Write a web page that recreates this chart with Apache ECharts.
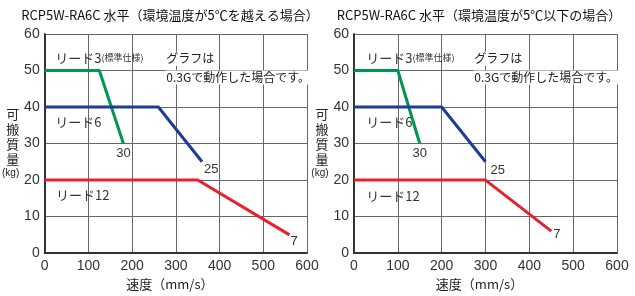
<!DOCTYPE html>
<html>
<head>
<meta charset="utf-8">
<script src="https://cdn.jsdelivr.net/npm/echarts@6/dist/echarts.min.js"></script>
<style>
  html, body { margin: 0; padding: 0; background: #fff; }
  #chart { width: 635px; height: 296px; }
</style>
</head>
<body>
<div id="chart"></div>
<script>
// titles of the two panels
const panelTitles = [
  "RCP5W-RA6C 水平（環境温度が5℃を越える場合）",
  "RCP5W-RA6C 水平（環境温度が5℃以下の場合）"
];

// [speed mm/s, payload kg] — above 5℃
const hotLead3 = [[0, 50], [125, 50], [180, 30]];
const hotLead6 = [[0, 40], [260, 40], [360, 25]];
const hotLead12 = [[0, 20], [350, 20], [560, 5]];

// [speed mm/s, payload kg] — 5℃ and below
const coldLead3 = [[0, 50], [100, 50], [150, 30]];
const coldLead6 = [[0, 40], [200, 40], [300, 25]];
const coldLead12 = [[0, 20], [300, 20], [450, 6]];

const endValues = ["30", "25", "7"];
const leadNames = ["リード3", "リード6", "リード12"];
const noteLines = ["グラフは", "0.3Gで動作した場合です。"];

const FONT = "'Liberation Sans', Arial, sans-serif";
const JP = "'Noto Sans CJK JP', sans-serif";
const colors = ["#009650", "#1e3c96", "#e8212b"];

// label positions in data coordinates (per panel)
const nameCoords = [
  [[24, 53.5], [24, 35.8], [26, 15.9]],
  [[28, 53.5], [28, 35.8], [28, 15.6]]
];
const noteCoords = [
  [[276, 53.2], [276, 48.1]],
  [[272, 53.2], [272, 48.1]]
];
const endLabelPos = [
  [{ position: "bottom", offset: [0, 0] }, { position: "right", offset: [-1, 8] }, { position: "right", offset: [-2, 7] }],
  [{ position: "bottom", offset: [0, 0] }, { position: "right", offset: [2, 9] }, { position: "right", offset: [-1, 3] }]
];

const panels = [
  [hotLead3, hotLead6, hotLead12],
  [coldLead3, coldLead6, coldLead12]
];

const chart = echarts.init(document.getElementById("chart"));

const grids = [
  { left: 44, top: 34, width: 263, height: 220 },
  { left: 354, top: 34, width: 263, height: 220 }
];

function xAxisFor(i) {
  return {
    gridIndex: i, type: "value", min: 0, max: 600, interval: 100,
    name: "速度（mm/s）", nameLocation: "middle", nameGap: 24,
    nameTextStyle: { fontFamily: JP, fontSize: 13, color: "#222", padding: [0, 12, 0, 0] },
    axisLine: { show: true, onZero: false, lineStyle: { color: "#333", width: 2 } },
    axisTick: { show: false },
    axisLabel: { fontFamily: FONT, fontSize: 14, color: "#333", margin: 6 },
    splitLine: { show: true, lineStyle: { color: "#666", width: 1 } }
  };
}

function yAxisFor(i) {
  return {
    gridIndex: i, type: "value", min: 0, max: 60, interval: 10,
    name: "{a|可\n搬\n質\n量}\n{b|(kg)}", nameLocation: "middle", nameRotate: 0, nameGap: 24,
    nameTextStyle: {
      color: "#222", align: "right",
      rich: {
        a: { fontFamily: JP, fontSize: 13, lineHeight: 15, color: "#222" },
        b: { fontFamily: FONT, fontSize: 10, lineHeight: 14, color: "#222" }
      }
    },
    axisLine: { show: true, onZero: false, lineStyle: { color: "#333", width: 2 } },
    axisTick: { show: false },
    axisLabel: { fontFamily: FONT, fontSize: 14, color: "#333", margin: 5 },
    splitLine: { show: true, lineStyle: { color: "#666", width: 1 } }
  };
}

const series = [];
panels.forEach((lines, p) => {
  lines.forEach((pts, k) => {
    const last = pts.length - 1;
    series.push({
      type: "line", xAxisIndex: p, yAxisIndex: p,
      symbol: "none", silent: true, z: 5,
      lineStyle: { color: colors[k], width: 3 },
      data: pts.map((pt, j) => j === last ? {
        value: pt,
        symbol: "circle", symbolSize: 0,
        label: {
          show: true, formatter: endValues[k], distance: 3,
          position: endLabelPos[p][k].position, offset: endLabelPos[p][k].offset,
          fontFamily: FONT, fontSize: 13, color: "#333"
        }
      } : pt),
      markPoint: {
        symbol: "circle", symbolSize: 0, silent: true,
        label: {
          show: true, position: "right", distance: 0,
          formatter: k === 0 ? "{n|" + leadNames[k] + "}{s|(標準仕様)}" : "{n|" + leadNames[k] + "}",
          rich: {
            n: { fontFamily: JP, fontSize: 13, color: "#333" },
            s: { fontFamily: JP, fontSize: 9, color: "#333" }
          }
        },
        data: [{ coord: nameCoords[p][k] }]
      }
    });
  });
  // note text with white background over grid
  series.push({
    type: "scatter", xAxisIndex: p, yAxisIndex: p, silent: true, z: 6,
    symbolSize: 0, data: [],
    markPoint: {
      symbol: "circle", symbolSize: 0, silent: true,
      label: {
        show: true, position: "right", distance: 0,
        backgroundColor: "#fff", padding: [1, 2, 1, 1],
        fontFamily: JP, fontSize: 12, color: "#222"
      },
      data: noteLines.map((t, j) => ({ coord: noteCoords[p][j], label: { formatter: t } }))
    }
  });
});

chart.setOption({
  animation: false,
  title: panelTitles.map((t, i) => ({
    text: t, left: i === 0 ? 165 : 474, top: 4, textAlign: "center",
    textStyle: { fontFamily: JP, fontSize: 13, fontWeight: "normal", color: "#111" }
  })),
  grid: grids,
  xAxis: [xAxisFor(0), xAxisFor(1)],
  yAxis: [yAxisFor(0), yAxisFor(1)],
  series: series
});
</script>
</body>
</html>
